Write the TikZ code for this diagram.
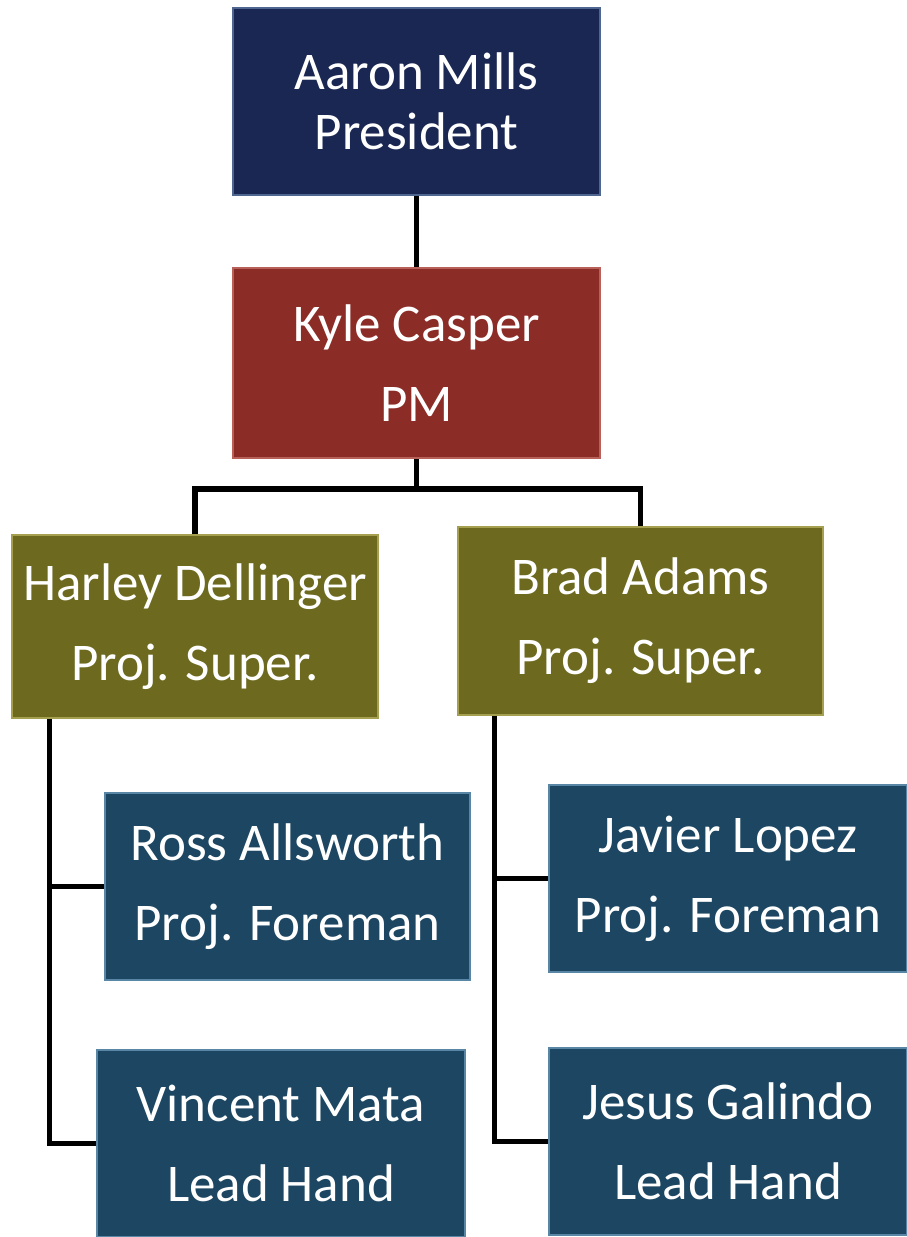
\documentclass[tikz,border=0pt]{standalone}
\usepackage{fontspec}
\setmainfont{Carlito}
\usetikzlibrary{calc}
\definecolor{navy}{HTML}{1A2752}
\definecolor{navyedge}{HTML}{4F6790}
\definecolor{brick}{HTML}{8C2C27}
\definecolor{brickedge}{HTML}{B8605A}
\definecolor{olive}{HTML}{6D6A1F}
\definecolor{oliveedge}{HTML}{A4A050}
\definecolor{teal}{HTML}{1C4661}
\definecolor{tealedge}{HTML}{5A86A6}
\tikzset{
  orgbox/.style={rectangle, inner sep=0pt, align=center, text=white,
    line width=1.5pt, font=\fontsize{53}{80}\selectfont},
  topbox/.style={orgbox, fill=navy, draw=navyedge, font=\fontsize{53}{60}\selectfont},
  pmbox/.style={orgbox, fill=brick, draw=brickedge},
  supbox/.style={orgbox, fill=olive, draw=oliveedge},
  crewbox/.style={orgbox, fill=teal, draw=tealedge},
  link/.style={draw=black, line width=5.5pt}
}
\begin{document}
\begin{tikzpicture}[x=1pt,y=-1pt]
\useasboundingbox (0,0) rectangle (907,1237);
\node[topbox, minimum width=367, minimum height=187] (aaron) at (416.5,101.5) {Aaron Mills\\President};
\node[pmbox, minimum width=367, minimum height=190] (kyle) at (416.5,363) {Kyle Casper\\PM};
\node[supbox, minimum width=366, minimum height=183] (harley) at (195,626.5) {Harley Dellinger\\Proj. Super.};
\node[supbox, minimum width=365, minimum height=188] (brad) at (640.5,621) {Brad Adams\\Proj. Super.};
\node[crewbox, minimum width=365, minimum height=187] (ross) at (287.5,886.5) {Ross Allsworth\\Proj. Foreman};
\node[crewbox, minimum width=358, minimum height=187] (javier) at (728,878.5) {Javier Lopez\\Proj. Foreman};
\node[crewbox, minimum width=368, minimum height=187] (vincent) at (281,1143.5) {Vincent Mata\\Lead Hand};
\node[crewbox, minimum width=358, minimum height=187] (jesus) at (728,1141.5) {Jesus Galindo\\Lead Hand};
% connectors
\draw[link] (aaron.south) -- (kyle.north);
\coordinate (bar) at ($(kyle.south)+(0,30)$);
\draw[link] (kyle.south) -- (bar);
\draw[link] (harley.north) |- (bar) -| (brad.north);
\coordinate (hspine) at ([xshift=38pt]harley.south west);
\draw[link] (hspine) |- (vincent.west);
\draw[link] (hspine |- ross.west) -- (ross.west);
\coordinate (bspine) at ([xshift=37pt]brad.south west);
\draw[link] (bspine) |- (jesus.west);
\draw[link] (bspine |- javier.west) -- (javier.west);
\end{tikzpicture}
\end{document}
